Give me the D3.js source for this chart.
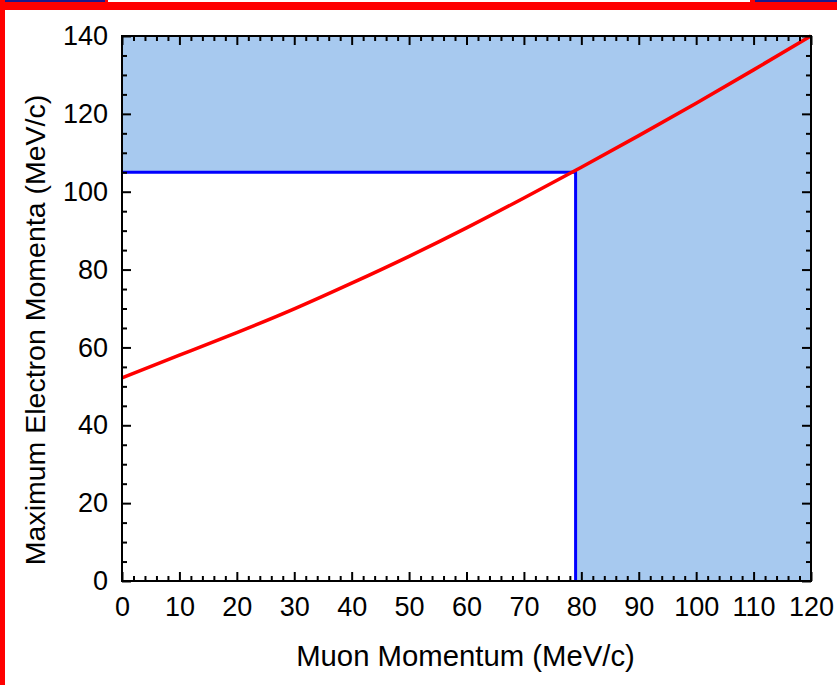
<!DOCTYPE html>
<html>
<head>
<meta charset="utf-8">
<script src="https://cdn.jsdelivr.net/npm/d3@7"></script>
<style>
    html, body { margin: 0; padding: 0; background: #fff; }
    svg { display: block; font-family: "Liberation Sans", Arial, sans-serif; }
</style>
</head>
<body>
<div id="chart"></div>
<script>
// muon momentum (MeV/c) vs maximum electron momentum (MeV/c)
const muonMomentum = [0, 10, 20, 30, 40, 50, 60, 70, 80, 90, 100, 110, 120];
const maxElectron = [52.2, 58.0, 63.8, 69.9, 76.5, 83.4, 90.7, 98.4, 106.3, 114.4, 122.7, 131.3, 140];

// threshold lines
const cutMuon = [79];
const cutElectron = [105];

const xTicks = [0, 10, 20, 30, 40, 50, 60, 70, 80, 90, 100, 110, 120];
const yTicks = [0, 20, 40, 60, 80, 100, 120, 140];

const W = 837, H = 685;
const margin = {top: 36, right: 26, bottom: 104, left: 122};
const width = W - margin.left - margin.right;
const height = H - margin.top - margin.bottom;
const font = '"Liberation Sans", Arial, sans-serif';

const svg = d3.select('#chart').append('svg')
    .attr('width', W)
    .attr('height', H);

// slide decoration at the top / left edge
svg.append('rect').attr('x', 0).attr('y', 0).attr('width', W).attr('height', 10).attr('fill', '#ff0000');
svg.append('rect').attr('x', 0).attr('y', 0).attr('width', 105).attr('height', 2).attr('fill', '#1a1a8c');
svg.append('rect').attr('x', 755).attr('y', 0).attr('width', W - 755).attr('height', 2).attr('fill', '#1a1a8c');
svg.append('rect').attr('x', 108).attr('y', 0).attr('width', 642).attr('height', 2).attr('fill', '#fff');
svg.append('rect').attr('x', 0).attr('y', 0).attr('width', 5).attr('height', H).attr('fill', '#ff0000');

const g = svg.append('g')
    .attr('transform', `translate(${margin.left},${margin.top})`);

const x = d3.scaleLinear().domain([0, 120]).range([0, width]);
const y = d3.scaleLinear().domain([0, 140]).range([height, 0]);

// shaded (allowed) region, white box cut out
g.append('rect')
    .attr('x', 0).attr('y', 0)
    .attr('width', width).attr('height', height)
    .attr('fill', '#a7c9ef');
g.append('rect')
    .attr('x', 0).attr('y', y(cutElectron[0]))
    .attr('width', x(cutMuon[0])).attr('height', height - y(cutElectron[0]))
    .attr('fill', '#fff');

// blue cut lines
g.append('path')
    .attr('d', `M${x(0)},${y(cutElectron[0])}H${x(cutMuon[0])}V${y(0)}`)
    .attr('fill', 'none')
    .attr('stroke', '#0000ff')
    .attr('stroke-width', 3);

// red curve
const line = d3.line()
    .x((d, i) => x(muonMomentum[i]))
    .y(d => y(d))
    .curve(d3.curveNatural);

g.append('path')
    .datum(maxElectron)
    .attr('d', line)
    .attr('fill', 'none')
    .attr('stroke', '#ff0000')
    .attr('stroke-width', 3.5);

// axes: ticks inward on all four sides
function styleAxis(sel) {
    sel.select('.domain').remove();
    sel.selectAll('line').attr('stroke', '#000').attr('stroke-width', 2);
}

const minorX = d3.range(0, 121, 2).filter(v => v % 10 !== 0);
const minorY = d3.range(0, 141, 5).filter(v => v % 20 !== 0);

g.append('g')
    .attr('transform', `translate(0,${height})`)
    .call(d3.axisBottom(x).tickValues(xTicks).tickSize(-9).tickPadding(16))
    .call(styleAxis)
    .call(s => s.selectAll('text').attr('font-size', 27).attr('fill', '#000').attr('font-family', font));
g.append('g')
    .attr('transform', `translate(0,${height})`)
    .call(d3.axisBottom(x).tickValues(minorX).tickSize(-5).tickFormat(''))
    .call(styleAxis);

g.append('g')
    .call(d3.axisTop(x).tickValues(xTicks).tickSize(-9).tickFormat(''))
    .call(styleAxis);
g.append('g')
    .call(d3.axisTop(x).tickValues(minorX).tickSize(-5).tickFormat(''))
    .call(styleAxis);

g.append('g')
    .call(d3.axisLeft(y).tickValues(yTicks).tickSize(-9).tickPadding(14))
    .call(styleAxis)
    .call(s => s.selectAll('text').attr('font-size', 27).attr('fill', '#000').attr('font-family', font));
g.append('g')
    .call(d3.axisLeft(y).tickValues(minorY).tickSize(-5).tickFormat(''))
    .call(styleAxis);

g.append('g')
    .attr('transform', `translate(${width},0)`)
    .call(d3.axisRight(y).tickValues(yTicks).tickSize(-9).tickFormat(''))
    .call(styleAxis);
g.append('g')
    .attr('transform', `translate(${width},0)`)
    .call(d3.axisRight(y).tickValues(minorY).tickSize(-5).tickFormat(''))
    .call(styleAxis);

// frame
g.append('rect')
    .attr('width', width).attr('height', height)
    .attr('fill', 'none')
    .attr('stroke', '#000')
    .attr('stroke-width', 2);

// axis titles
g.append('text')
    .attr('x', width / 2 - 1)
    .attr('y', height + 85)
    .attr('text-anchor', 'middle')
    .attr('font-size', 29.3)
    .text('Muon Momentum (MeV/c)');

g.append('text')
    .attr('transform', 'rotate(-90)')
    .attr('x', -294)
    .attr('y', -77)
    .attr('text-anchor', 'middle')
    .attr('font-size', 28.5)
    .text('Maximum Electron Momenta (MeV/c)');
</script>
</body>
</html>
